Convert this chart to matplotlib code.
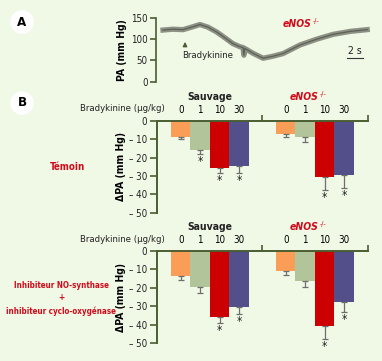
import matplotlib
matplotlib.use("Agg")
import matplotlib.pyplot as plt

W, H = 382, 361
BG = '#f0f8e6'
AXC = '#4b5e32'
RED = '#d10a1a'

# panel A trace: time (s) and pressure (mm Hg)
trace_t = [0, 1.2, 2.5, 3.6, 4.6, 5.6, 6.75, 7.8, 8.75, 9.6, 10.0, 10.1, 10.2, 11.3,
           12.5, 13.8, 15, 17.1, 19.25, 21.25, 23.4, 25.5]
trace_p = [121, 123, 122, 128, 134, 128, 116, 102, 89, 82, 80, 62, 78, 66,
           55, 60, 66, 86, 100, 111, 118, 122]

# panel B
doses = ['0', '1', '10', '30']
groups = ['Sauvage', 'eNOS']
colors = ['#f99d57', '#b1c49a', '#cc0000', '#524f8a']

temoin_wt = [-8.7, -15.9, -25.5, -24.6]
temoin_wt_err = [1.4, 2.2, 3.1, 4.0]
temoin_ko = [-7.0, -8.7, -30.8, -29.3]
temoin_ko_err = [2.0, 3.0, 6.9, 7.4]
temoin_stars = [[0, 1, 1, 1], [0, 0, 1, 1]]

inhib_wt = [-13.8, -19.7, -35.7, -30.7]
inhib_wt_err = [1.7, 3.0, 3.4, 3.6]
inhib_ko = [-11.1, -16.4, -40.9, -27.5]
inhib_ko_err = [1.8, 3.3, 6.8, 5.5]
inhib_stars = [[0, 0, 1, 1], [0, 0, 1, 1]]

yticks = [0, -10, -20, -30, -40, -50]
group_gap = 5.4

plt.rcParams['font.family'] = 'DejaVu Sans'
plt.rcParams['font.stretch'] = 'condensed'


def rect(x0, y0, x1, y1):
    # pixel box (top-left origin) -> figure fraction
    return [x0 / W, 1 - y1 / H, (x1 - x0) / W, (y1 - y0) / H]


def ftext(x, y, s, **kw):
    fig.text(x / W, 1 - y / H, s, **kw)


def enos_label(x, y, size=7.5):
    ftext(x, y, 'eNOS', color=RED, fontsize=size, fontweight='bold',
          fontstyle='italic', ha='right', va='center')
    ftext(x + 1, y - 3, '-/-', color=RED, fontsize=size - 2.5,
          ha='left', va='center')


fig = plt.figure(figsize=(W / 100, H / 100), dpi=100, facecolor=BG)

# ---- panel A
axA = fig.add_axes(rect(156, 17.7, 372, 81.7))
axA.set_facecolor('none')
axA.plot(trace_t, trace_p, color='#8c9184', lw=3.8)
axA.plot(trace_t, trace_p, color='#5c6057', lw=0.9)
axA.set_xlim(-0.875, 26.1)
axA.set_ylim(0, 150)
axA.set_yticks([0, 50, 100, 150])
axA.set_xticks([])
for s in ['top', 'right', 'bottom']:
    axA.spines[s].set_visible(False)
axA.spines['left'].set_color(AXC)
axA.spines['left'].set_linewidth(1.2)
axA.tick_params(axis='y', colors=AXC, labelcolor='#222222', labelsize=7,
                length=4, width=1.2, pad=2)
axA.set_ylabel('PA (mm Hg)', fontsize=7.5, fontweight='bold', labelpad=3)
axA.annotate('', xy=(2.75, 100), xytext=(2.75, 78),
             arrowprops=dict(arrowstyle='-|>', color=AXC, lw=1, mutation_scale=6))
axA.text(2.4, 62, 'Bradykinine', fontsize=6.8, va='center', ha='left', color='#222222')
axA.plot([23.0, 25.0], [55, 55], color='#333333', lw=0.8)
axA.text(24.0, 60, '2 s', fontsize=7.5, ha='center', va='bottom', color='#222222')
enos_label(312, 24)

ftext(22, 22, 'A', fontsize=9.5, fontweight='bold', ha='center', va='center',
      bbox=dict(boxstyle='circle,pad=0.4', fc='white', ec='none'))
ftext(22, 103, 'B', fontsize=9.5, fontweight='bold', ha='center', va='center',
      bbox=dict(boxstyle='circle,pad=0.4', fc='white', ec='none'))


# ---- panel B
def bar_panel(y0, wt, wt_err, ko, ko_err, stars):
    ax = fig.add_axes(rect(157, y0, 368, y0 + 92))
    ax.set_facecolor('none')
    centers = []
    for g, (vals, errs) in enumerate([(wt, wt_err), (ko, ko_err)]):
        xs = [i + g * group_gap for i in range(len(doses))]
        centers += xs
        ax.bar(xs, vals, width=1.0, color=colors, edgecolor='none', zorder=2)
        ax.errorbar(xs, vals, yerr=[errs, [0] * len(errs)], fmt='none',
                    ecolor='#6e6e6e', elinewidth=0.9, capsize=2.5, capthick=0.9, zorder=3)
        for x, v, e, st in zip(xs, vals, errs, stars[g]):
            if st:
                ax.text(x, v - e - 0.6, '*', ha='center', va='top', fontsize=8.5,
                        color='#222222')
    ax.set_xlim(-1.22, 9.63)
    ax.set_ylim(-50, 0)
    ax.set_yticks(yticks)
    ax.set_yticklabels(['– ' + str(abs(t)) if t else '0' for t in yticks])
    ax.xaxis.set_ticks_position('top')
    ax.set_xticks(centers)
    ax.set_xticklabels(doses * 2)
    ax.set_xticks([4.2, 9.63], minor=True)
    ax.tick_params(axis='x', which='major', length=0, labelsize=7, pad=4)
    ax.tick_params(axis='x', which='minor', length=4, width=1.2, colors=AXC)
    ax.tick_params(axis='y', colors=AXC, labelcolor='#222222', labelsize=7,
                   length=5, width=1.2, pad=2)
    for s in ['right', 'bottom']:
        ax.spines[s].set_visible(False)
    for s in ['left', 'top']:
        ax.spines[s].set_color(AXC)
        ax.spines[s].set_linewidth(1.4)
    ax.set_ylabel('ΔPA (mm Hg)', fontsize=7.5, fontweight='bold', labelpad=2)
    ftext(165, y0 - 12, 'Bradykinine (µg/kg)', fontsize=6.8, ha='right', va='center',
          color='#222222')
    ftext(210, y0 - 24, groups[0], fontsize=7.5, fontweight='bold', ha='center',
          va='center', color='#222222')
    enos_label(319, y0 - 24)
    return ax


bar_panel(120.7, temoin_wt, temoin_wt_err, temoin_ko, temoin_ko_err, temoin_stars)
bar_panel(251, inhib_wt, inhib_wt_err, inhib_ko, inhib_ko_err, inhib_stars)

ftext(67, 167, 'Témoin', fontsize=7, fontweight='bold', color=RED, ha='center', va='center')
ftext(61, 285, 'Inhibiteur NO-synthase', fontsize=5.8, fontweight='bold', color=RED,
      ha='center', va='center')
ftext(61, 298, '+', fontsize=6, fontweight='bold', color=RED, ha='center', va='center')
ftext(61, 311, 'inhibiteur cyclo-oxygénase', fontsize=5.8, fontweight='bold', color=RED,
      ha='center', va='center')

fig.savefig('out.png', dpi=100, facecolor=BG)
